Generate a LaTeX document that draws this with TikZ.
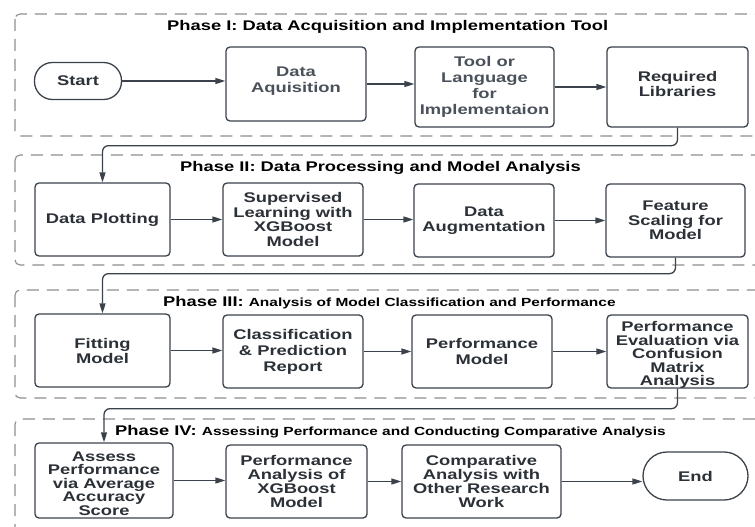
\documentclass[tikz,border=0pt]{standalone}
\usepackage{fontspec}
\setmainfont{Liberation Sans}[FakeStretch=1.31]
\usetikzlibrary{arrows.meta}

\definecolor{edge}{HTML}{3B424C}
\definecolor{boxtext}{HTML}{2C3138}
\definecolor{softtext}{HTML}{4A515A}
\definecolor{framegray}{HTML}{8E8E8E}

\tikzset{
  boxnode/.style={draw=edge, line width=1.3pt, rounded corners=4pt, align=center,
    inner sep=0pt, text=boxtext, font=\bfseries\fontsize{14}{15}\selectfont},
  boxlabel/.style={align=center, inner sep=0pt, text=boxtext, font=\bfseries\fontsize{14}{15}\selectfont},
  capsule/.style={boxnode, rounded corners=18pt},
  frame/.style={draw=framegray, line width=1.1pt, dash pattern=on 12pt off 8pt, rounded corners=5pt},
  flow/.style={draw=edge, line width=1.3pt, -{Triangle[length=10pt,width=6pt]}},
  link/.style={flow, rounded corners=6pt},
  phasetitle/.style={anchor=west, inner sep=0pt, text=black, font=\bfseries\fontsize{14}{16}\selectfont},
}
\newcommand\minorpart[1]{{\fontsize{11.8}{14}\selectfont #1}}

\begin{document}
\begin{tikzpicture}[x=1pt, y=-1pt]
\useasboundingbox (0,0) rectangle (755,527);
\clip (0,0) rectangle (755,527);
\fill[white] (0,0) rectangle (755,527);

% phase frames
\draw[frame] (15,14) rectangle (775,136);
\draw[frame] (15,155) rectangle (775,265);
\draw[frame] (15,290) rectangle (775,398);
\draw[frame] (15,419) rectangle (775,545);

% phase titles
\node[phasetitle] (t1) at (167,27) {Phase I: Data Acquisition and Implementation Tool};
\node[phasetitle] (t2) at (180,168) {Phase II: Data Processing and Model Analysis};
\node[phasetitle] (t3) at (163,303) {Phase III: \minorpart{Analysis of Model Classification and Performance}};
\node[phasetitle] (t4) at (115,432) {Phase IV: \minorpart{Assessing Performance and Conducting Comparative Analysis}};

% phase I
\node[capsule, minimum width=87pt, minimum height=37pt] (start) at (78,81) {Start};
\node[boxnode, minimum width=140pt, minimum height=74pt] (daq) at (296,84) {};
\node[boxlabel, text=softtext, font=\bfseries\fontsize{14}{16}\selectfont] (daqtext)
      at ([yshift=3pt]daq.center) {Data\\Aquisition};
\node[boxnode, text=softtext, minimum width=139pt, minimum height=80pt,
      font=\bfseries\fontsize{14}{16}\selectfont] (tool) at (484.5,87) {Tool or\\Language\\for\\Implementaion};
\node[boxnode, minimum width=141pt, minimum height=80pt] (libs) at (677.5,87) {};
\node[boxlabel] (libstext) at ([yshift=3pt]libs.center) {Required\\Libraries};

% phase II
\node[boxnode, minimum width=135pt, minimum height=73pt] (plot) at (102.5,219.5) {Data Plotting};
\node[boxnode, minimum width=140pt, minimum height=73pt,
      font=\bfseries\fontsize{14}{14.5}\selectfont] (sup) at (293,219.5) {Supervised\\Learning with\\XGBoost\\Model};
\node[boxnode, minimum width=140pt, minimum height=73pt] (aug) at (484,220.5) {Data\\Augmentation};
\node[boxnode, minimum width=139pt, minimum height=73pt,
      font=\bfseries\fontsize{14}{14.5}\selectfont] (feat) at (675.5,220.5) {Feature\\Scaling for\\Model};

% phase III
\node[boxnode, minimum width=135pt, minimum height=73pt] (fit) at (102.5,350.5) {Fitting\\Model};
\node[boxnode, minimum width=140pt, minimum height=73pt,
      font=\bfseries\fontsize{14}{16}\selectfont] (cls) at (293,351.5) {Classification\\\& Prediction\\Report};
\node[boxnode, minimum width=140pt, minimum height=73pt,
      font=\bfseries\fontsize{14}{16}\selectfont] (perf) at (482,351.5) {Performance\\Model};
\node[boxnode, minimum width=141pt, minimum height=73pt] (eval) at (677.5,351.5) {};
\node[boxlabel, font=\bfseries\fontsize{14}{13.5}\selectfont] (evaltext) at ([yshift=-3.5pt]eval.center)
      {Performance\\Evaluation via\\Confusion\\Matrix\\Analysis};

% phase IV
\node[boxnode, minimum width=138pt, minimum height=75pt] (assess) at (104,480.5) {};
\node[boxlabel, font=\bfseries\fontsize{14}{13.5}\selectfont] (assesstext) at ([yshift=-3pt]assess.center)
      {Assess\\Performance\\via Average\\Accuracy\\Score};
\node[boxnode, minimum width=141pt, minimum height=73pt,
      font=\bfseries\fontsize{14}{14}\selectfont] (pan) at (296.5,481.5)
      {Performance\\Analysis of\\XGBoost\\Model};
\node[boxnode, minimum width=159pt, minimum height=73pt,
      font=\bfseries\fontsize{14}{14}\selectfont] (comp) at (481.5,481.5)
      {Comparative\\Analysis with\\Other Research\\Work};
\node[capsule, rounded corners=24pt, minimum width=105pt, minimum height=48pt] (end) at (695.5,476) {End};

% connectors within rows
\draw[flow] (start.east) -- (start.east -| daq.west);
\draw[flow] (daq.east) -- (daq.east -| tool.west);
\draw[flow] (tool.east) -- (tool.east -| libs.west);

\draw[flow] (plot.east) -- (plot.east -| sup.west);
\draw[flow] (sup.east) -- (sup.east -| aug.west);
\draw[flow] (aug.east) -- (aug.east -| feat.west);

\draw[flow] (fit.east) -- (fit.east -| cls.west);
\draw[flow] (cls.east) -- (cls.east -| perf.west);
\draw[flow] (perf.east) -- (perf.east -| eval.west);

\draw[flow] (assess.east) -- (assess.east -| pan.west);
\draw[flow] (pan.east) -- (pan.east -| comp.west);
\draw[flow] (comp.east) -- (comp.east -| end.west);

% connectors between phases
\draw[link] (libs.south) -- ++(0,18) -| (plot.north);
\draw[link] (feat.south) -- ++(0,16) -| (fit.north);
\draw[link] (eval.south) -- ++(0,20) -| (assess.north);
\end{tikzpicture}
\end{document}
